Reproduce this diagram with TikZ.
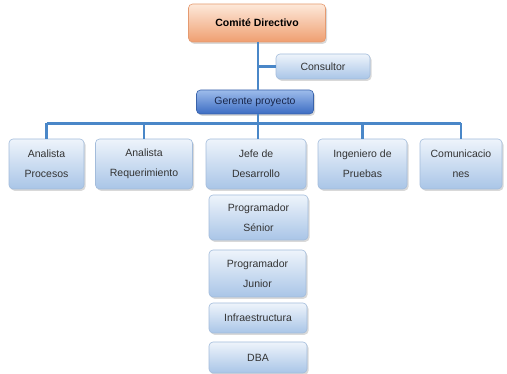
\documentclass[tikz,border=0pt]{standalone}
\usepackage{fontspec}
\setmainfont{Liberation Sans}
\usetikzlibrary{shadows}
\definecolor{linecol}{HTML}{4A87C8}
\definecolor{boxtop}{HTML}{EEF4FB}
\definecolor{boxbot}{HTML}{A9C5E7}
\definecolor{boxdraw}{HTML}{A3BCDB}
\definecolor{ortop}{HTML}{FDE9DA}
\definecolor{orbot}{HTML}{EF9E70}
\definecolor{ordraw}{HTML}{E59A70}
\definecolor{gtop}{HTML}{9DBCEB}
\definecolor{gbot}{HTML}{3C6CC3}
\definecolor{gdraw}{HTML}{3A63AA}
\definecolor{gtext}{HTML}{18264A}
\definecolor{txt}{HTML}{333333}
\tikzset{
  box/.style={rectangle, rounded corners=4pt, draw=boxdraw, line width=0.6pt,
    top color=boxtop, bottom color=boxbot, text=txt, align=center,
    font=\fontsize{10.5}{20}\selectfont, inner sep=0pt,
    drop shadow={shadow xshift=1.5pt, shadow yshift=-1.8pt, opacity=0.3}},
  obox/.style={box, top color=ortop, bottom color=orbot, draw=ordraw, text=black,
    font=\fontsize{10.5}{12}\selectfont\bfseries},
  gbox/.style={box, top color=gtop, bottom color=gbot, draw=gdraw, text=gtext},
  conn/.style={draw=linecol, line width=2.6pt}
}
\begin{document}
\begin{tikzpicture}[x=1pt,y=-1pt]
\useasboundingbox (0,0) rectangle (507,374);
% connectors first (behind boxes)
\coordinate (trunktop) at (258,42);
\coordinate (bus) at (258,123.5);
\coordinate (ctop) at (258,30);
\coordinate (gtop) at (258,95);
\coordinate (cjoin) at (258,66.5);
\coordinate (gbot) at (258,110);
\coordinate (rowtop) at (258,150);
% top
\node[obox, minimum width=137pt, minimum height=38pt] (comite) at (257,23) {Comité Directivo};
\node[box, minimum width=94pt, minimum height=25pt] (consultor) at (323,66.5) {Consultor};
\node[gbox, minimum width=117pt, minimum height=24pt] (gerente) at (255,102) {Gerente proyecto};
% row
\node[box, minimum width=75pt, minimum height=50pt] (ap) at (46.5,164) {Analista\\Procesos};
\node[box, minimum width=97pt, minimum height=50pt] (ar) at (144,164) {Analista\\Requerimiento};
\node[box, minimum width=100pt, minimum height=50pt] (jd) at (256,164) {Jefe de\\Desarrollo};
\node[box, minimum width=89pt, minimum height=50pt] (ip) at (362.5,164) {Ingeniero de\\Pruebas};
\node[box, minimum width=82pt, minimum height=50pt] (com) at (461,164) {Comunicacio\\nes};
% stack
\node[box, minimum width=99pt, minimum height=45pt] (ps) at (258.5,217.5) {Programador\\Sénior};
\node[box, minimum width=97pt, minimum height=47pt] (pj) at (257.5,273.5) {Programador\\Junior};
\node[box, minimum width=98pt, minimum height=30pt] (inf) at (258,318) {Infraestructura};
\node[box, minimum width=98pt, minimum height=31pt] (dba) at (258,357.5) {DBA};
% connectors
\draw[conn] (comite.south -| trunktop) -- (gerente.north -| trunktop);
\draw[conn] (consultor.west) -- (cjoin);
\draw[conn] (gerente.south -| trunktop) -- (bus);
\draw[conn] (bus -| ap.north) -- (bus -| com.north);
\draw[conn] (bus -| ap.north) -- (ap.north);
\draw[conn] (bus -| ar.north) -- (ar.north);
\draw[conn] (bus) -- (jd.north -| bus);
\draw[conn] (bus -| ip.north) -- (ip.north);
\draw[conn] (bus -| com.north) -- (com.north);
\end{tikzpicture}
\end{document}
